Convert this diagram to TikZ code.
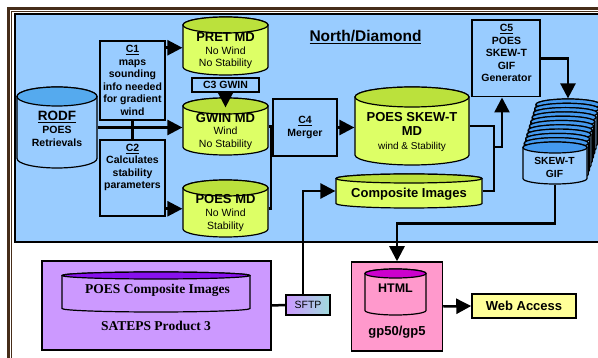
\documentclass[tikz,border=0pt]{standalone}
\usepackage{fontspec}
\setmainfont{Liberation Sans}
\newfontfamily\bookfont{Liberation Serif}
\usetikzlibrary{arrows.meta,calc}
\definecolor{skyfill}{RGB}{153,204,255}
\definecolor{tanktop}{RGB}{85,170,238}
\definecolor{limebody}{RGB}{221,255,102}
\definecolor{limetop}{RGB}{187,225,60}
\definecolor{stackblue}{RGB}{68,153,238}
\definecolor{lilac}{RGB}{204,153,255}
\definecolor{purpletop}{RGB}{136,17,238}
\definecolor{pinkfill}{RGB}{255,153,204}
\definecolor{magentatop}{RGB}{204,0,204}
\definecolor{webyellow}{RGB}{255,255,153}
\definecolor{sftpteal}{RGB}{160,220,220}
\definecolor{framebrown}{RGB}{70,45,25}
\newcommand\bigname{\fontsize{13}{14}\selectfont\bfseries}

\tikzset{
  box/.style={draw, line width=1.5pt, fill=skyfill, align=center, inner sep=0pt,
    font=\fontsize{10.5}{12.5}\selectfont\bfseries},
  boxtext/.style={align=center, inner sep=0pt, font=\fontsize{10.5}{12.5}\selectfont\bfseries},
  tanktext/.style={align=center, inner sep=0pt, font=\fontsize{10.5}{12.9}\selectfont},
  link/.style={line width=2.5pt},
  flow/.style={line width=2.5pt, -{Triangle[length=15pt,width=15pt]}},
  % drum drawn inside the node rectangle: top colour, body colour, ellipse half height
  tank/.style n args={3}{inner sep=0pt, outer sep=0pt,
    path picture={
      \draw[line width=1.2pt, fill=#2]
        let \p1=(path picture bounding box.north west),
            \p2=(path picture bounding box.south east),
            \n1={(\x2-\x1)/2-0.6pt}, \n2={#3}
        in (\x1+0.6pt,\y1-0.6pt-\n2) -- (\x1+0.6pt,\y2+0.6pt+\n2)
           arc[start angle=180, end angle=360, x radius=\n1, y radius=\n2]
           -- (\x2-0.6pt,\y1-0.6pt-\n2)
           arc[start angle=0, end angle=180, x radius=\n1, y radius=\n2] -- cycle;
      \draw[line width=1.2pt, fill=#1]
        let \p1=(path picture bounding box.north west),
            \p2=(path picture bounding box.south east),
            \n1={(\x2-\x1)/2-0.6pt}, \n2={#3}
        in ({(\x1+\x2)/2},\y1-0.6pt-\n2) ellipse[x radius=\n1, y radius=\n2];
    }},
}

\begin{document}
\begin{tikzpicture}[x=1pt,y=-1pt]
    \useasboundingbox (0,0) rectangle (598,358);
    \clip (0,0) rectangle (598,358);

    % page frame and the North/Diamond area
    \draw[framebrown, line width=2.5pt] (8.7,370) -- (8.7,8.7) -- (610,8.7);
    \draw[framebrown, line width=0.8pt] (11.8,370) -- (11.8,11.8) -- (610,11.8);
    \draw[line width=1.6pt, fill=skyfill] (15,14) rectangle (610,242);
    \node[font=\fontsize{15.5}{18}\selectfont\bfseries] (title) at (365.5,37) {\underline{North/Diamond}};

    % data stores
    \node[tank={tanktop}{skyfill}{9.5pt}, minimum width=81.2, minimum height=82.2] (rodf) at (57,127.5) {};
    \node[tank={limetop}{limebody}{8pt}, minimum width=86.2, minimum height=59.2] (pret) at (225.5,46) {};
    \node[tank={limetop}{limebody}{8pt}, minimum width=86.2, minimum height=58.2] (gwin) at (225.5,126.5) {};
    \node[tank={limetop}{limebody}{8pt}, minimum width=86.2, minimum height=58.2] (poesmd) at (225.5,208.5) {};
    \node[tank={limetop}{limebody}{10pt}, minimum width=115.2, minimum height=79.2] (skewmd) at (412,126) {};
    \node[tank={limetop}{limebody}{4.5pt}, minimum width=147.2, minimum height=35.2] (comp) at (409,191) {};

    \node[tanktext, font=\fontsize{10.5}{13}\selectfont\bfseries] (rodf-t) at (57,129.3)
        {{\fontsize{13.5}{15}\selectfont\underline{RODF}}\\POES\\Retrievals};
    \node[tanktext] (pret-t) at (225.5,50.7) {{\bigname PRET MD}\\No Wind\\No Stability};
    \node[tanktext] (gwin-t) at (225.5,131.5) {{\bigname GWIN MD}\\Wind\\No Stability};
    \node[tanktext] (poesmd-t) at (225.5,213.3) {{\bigname POES MD}\\No Wind\\Stability};
    \node[tanktext, font=\fontsize{10}{14}\selectfont] (skewmd-t) at (412,131.7)
        {{\bigname POES SKEW-T}\\{\bigname MD}\\wind \& Stability};
    \node[tanktext, font=\bigname] (comp-t) at (409,194.4) {Composite Images};

    % stacked GIF output
    \foreach \i in {10,9,...,1}
        \node[tank={stackblue}{skyfill}{5.5pt}, minimum width=65.2, minimum height=43.2]
            (gif-\i) at ({555+1.3*\i},{163-4.3*\i}) {};
    \node[tank={stackblue}{skyfill}{5.5pt}, minimum width=65.2, minimum height=43.2] (gif) at (555,163) {};
    \node[boxtext, font=\fontsize{10.3}{13.3}\selectfont\bfseries] (gif-t) at (554.5,167.6) {SKEW-T\\GIF};

    % processes
    \node[box, minimum width=65, minimum height=79] (c1) at (132.5,80.5)
        {\underline{C1}\\maps\\sounding\\info needed\\for gradient\\wind};
    \node[box, minimum width=65, minimum height=76] (c2) at (132.5,178) {};
    \node[boxtext] (c2-t) at (132.5,167.5) {\underline{C2}\\Calculates\\stability\\parameters};
    \node[box, minimum width=67, minimum height=14] (c3) at (225.5,85) {C3 GWIN};
    \node[box, minimum width=64, minimum height=57, font=\fontsize{10.5}{13}\selectfont\bfseries] (c4) at (305,127.5)
        {\underline{C4}\\Merger};
    \node[box, minimum width=68, minimum height=76.5] (c5) at (506,58.5) {};
    \node[boxtext, font=\fontsize{10.5}{12.6}\selectfont\bfseries] (c5-t) at (506.5,53.1)
        {\underline{C5}\\POES\\SKEW-T\\GIF\\Generator};

    % outside the area
    \node[draw, line width=1.5pt, fill=lilac, minimum width=229, minimum height=89] (sateps) at (156.5,305.5) {};
    \node[tank={purpletop}{lilac}{3.5pt}, minimum width=189.2, minimum height=41.2] (satcomp) at (156,292) {};
    \node[inner sep=0pt, font=\bookfont\fontsize{13.5}{15}\selectfont\bfseries] (satcomp-t) at (157.5,290.8) {POES Composite Images};
    \node[inner sep=0pt, font=\bookfont\fontsize{13.5}{15}\selectfont\bfseries] (sateps-t) at (156,326) {SATEPS Product 3};
    \node[draw, line width=1.5pt, left color=lilac, right color=sftpteal, minimum width=44, minimum height=20,
        inner sep=0pt, font=\fontsize{10.5}{12}\selectfont] (sftp) at (308,305) {SFTP};

    \node[draw, line width=1.5pt, fill=pinkfill, minimum width=91, minimum height=89] (htmlhost) at (397,306.5) {};
    \node[tank={magentatop}{pinkfill}{4.5pt}, minimum width=62.2, minimum height=47.2] (html) at (395.5,292) {};
    \node[inner sep=0pt, font=\fontsize{12.5}{14}\selectfont\bfseries] (html-t) at (395.5,288.3) {HTML};
    \node[inner sep=0pt, font=\bigname] (htmlhost-t) at (397,332) {gp50/gp5};
    \node[draw, line width=1.5pt, fill=webyellow, minimum width=104, minimum height=24,
        font=\bigname] (web) at (524,306) {Web Access};

    % Flows
    \coordinate (c1-out) at ([yshift=-7.5pt]c1.north east);
    \coordinate (c2-out) at ([yshift=8pt]c2.south east);
    \coordinate (join) at (494,147);
    \draw[flow] (c1-out) -- (c1-out -| pret.west);
    \draw[link] (c1.south) -- (c2.north);
    \draw[flow] (rodf.east) -- (rodf.east -| gwin.west);
    \draw[flow] (c3.south) -- ([yshift=-10pt]gwin.north);
    \draw[flow] (c2-out) -- (c2-out -| poesmd.west);
    \draw[link] (gwin.east) -- (gwin.east -| c4.west);
    \draw[link] (poesmd.east) -| ([xshift=2.5pt]gwin.east);
    \draw[flow] (c4.east) -- (c4.east -| skewmd.west);
    \draw[link] (skewmd.east) -| (join);
    \draw[link] (comp.east) -| (join);
    \draw[flow] (join) -| ([xshift=-4pt]c5.south);
    \draw[flow] (c5.east) -| (gif-10.north);
    \draw[flow] (gif.south) -- ++(0,39) -| (htmlhost.north);
    \draw[flow] (htmlhost.east) -- (web.west);
    \draw[link] (sateps.east) -- (sftp.west);
    \draw[flow] ([xshift=-5pt]sftp.north) |- (comp.west);
\end{tikzpicture}
\end{document}
